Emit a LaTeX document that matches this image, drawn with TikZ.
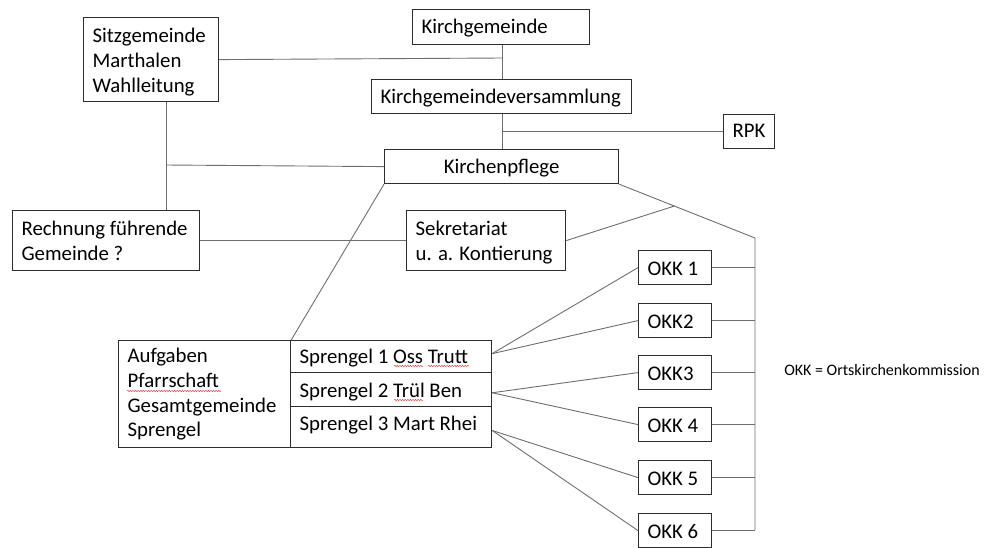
\documentclass[tikz,border=0pt]{standalone}
\usepackage{fontspec}
\setmainfont{Carlito}
\usetikzlibrary{calc,decorations.pathmorphing}
\definecolor{edgec}{RGB}{110,110,110}
\definecolor{bordc}{RGB}{45,45,45}
\definecolor{spellc}{RGB}{215,60,60}
\begin{document}
\begin{tikzpicture}[x=1pt,y=-1pt,
  box/.style={draw=bordc, line width=1.2pt, inner xsep=9pt, inner ysep=0pt,
    anchor=north west, align=flush left, font=\fontsize{20.8}{25}\selectfont},
  hd/.style 2 args={text height=#1pt, text depth=#2pt},
  conn/.style={draw=edgec, line width=0.9pt},
  squig/.style={draw=spellc, line width=0.5pt, decorate,
    decoration={snake, amplitude=0.6pt, segment length=2.6pt}}]
\useasboundingbox (0,0) rectangle (996,547);

% top boxes
\node[box, hd={25}{59}, text width=117pt] (sitz) at (83,17) {\mbox{Sitzgemeinde}\\\mbox{Marthalen}\\\mbox{Wahlleitung}};
\node[box, hd={24}{11}, text width=159pt] (kg) at (412,9) {\mbox{Kirchgemeinde}};
\node[box, hd={24}{10}, text width=242pt] (kgv) at (371,79) {\mbox{Kirchgemeindeversammlung}};
\node[box, hd={24}{10}, text width=216pt, align=center] (kp) at (384,149) {\mbox{Kirchenpflege}};
\node[box, hd={23}{11}, text width=33pt, align=center] (rpk) at (723,114) {\mbox{RPK}};
\node[box, hd={25}{35}, text width=169pt] (rf) at (12,210) {\mbox{Rechnung führende}\\\mbox{Gemeinde ?}};
\node[box, hd={25}{35}, text width=141pt] (sek) at (406,210) {\mbox{Sekretariat}\\\mbox{u. a. Kontierung}};

% table
\node[box, hd={22}{85}, text width=154pt, font=\fontsize{20.8}{24.7}\selectfont] (aufg) at (118,340) {\mbox{Aufgaben}\\\mbox{Pfarrschaft}\\\mbox{Gesamtgemeinde}\\\mbox{Sprengel}};
\node[box, hd={23}{9}, text width=183pt] (sp1) at (290,340) {\mbox{Sprengel 1 Oss Trutt}};
\node[box, hd={25}{9}, text width=183pt] (sp2) at (290,372) {\mbox{Sprengel 2 Trül Ben}};
\node[box, hd={24}{17}, text width=183pt] (sp3) at (290,406) {\mbox{Sprengel 3 Mart Rhei}};

% OKK boxes
\foreach \n/\t/\y in {1/OKK 1/250, 2/OKK2/303, 3/OKK3/355, 4/OKK 4/407, 5/OKK 5/460, 6/OKK 6/513}
  \node[box, hd={25}{9}, text width=55pt] (okk\n) at (638,\y) {\mbox{\t}};

% legend
\node[font=\fontsize{16}{19}\selectfont, inner sep=0pt, anchor=base] (leg) at (882,375) {OKK = Ortskirchenkommission};

% junction coordinates
\coordinate (j1) at (502,58);
\coordinate (j2) at (755,238);
\coordinate (j3) at (755,530);
\coordinate (j4) at (166,165);

% connectors
\draw[conn] (sitz.east) -- (j1);
\draw[conn] (kg.south -| j1) -- (kgv.north -| j1);
\draw[conn] (kgv.south -| j1) -- (kp.north -| j1);
\draw[conn] ($(kgv.south -| j1)!0.5!(kp.north -| j1)$) -- (rpk.west);
\draw[conn] (sitz.south -| j4) -- (rf.north -| j4);
\draw[conn] (j4) -- (kp.west);
\draw[conn] (rf.east) -- (sek.west);
\draw[conn] (kp.south west) -- (aufg.north east);
\draw[conn] (kp.south east) -- (j2) -- (j3);
\draw[conn] (sek.east) -- ($(kp.south east)!0.406!(j2)$);

\coordinate (s1) at ($(sp1.north east)!0.41!(sp1.south east)$);
\coordinate (s2) at ($(sp2.north east)!0.59!(sp2.south east)$);
\coordinate (s3) at ($(sp3.north east)!0.58!(sp3.south east)$);
\draw[conn] (s1) -- (okk1.west);
\draw[conn] (s1) -- (okk2.west);
\draw[conn] (s2) -- (okk3.west);
\draw[conn] (s2) -- (okk4.west);
\draw[conn] (s3) -- (okk5.west);
\draw[conn] (s3) -- (okk6.west);
\foreach \n in {1,...,6}
  \draw[conn] (okk\n.east) -- (okk\n.east -| j3);

% spell-check underlines
\draw[squig] (127,391) -- (221,391);
\draw[squig] (394,366) -- (423,366);
\draw[squig] (428,366) -- (469,366);
\draw[squig] (394,400) -- (423,400);
\end{tikzpicture}
\end{document}
